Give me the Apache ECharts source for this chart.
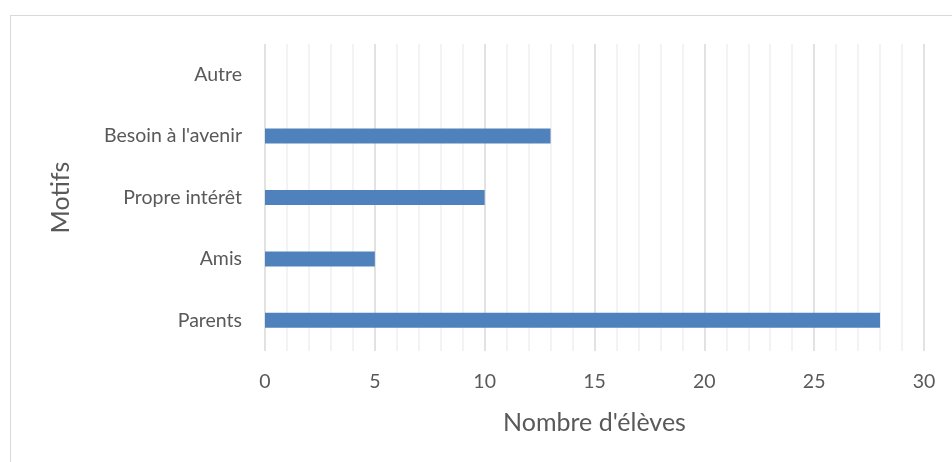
<!DOCTYPE html>
<html>
<head>
<meta charset="utf-8">
<script src="https://cdn.jsdelivr.net/npm/echarts@6/dist/echarts.min.js"></script>
<style>
html,body{margin:0;padding:0;background:#fff;overflow:hidden;}
#frame{position:absolute;left:10px;top:15px;width:960px;height:470px;border:1.5px solid #d9d9d9;box-sizing:border-box;}
#chart{position:absolute;left:0;top:0;width:952px;height:462px;}
</style>
</head>
<body>
<div id="frame"></div>
<div id="chart"></div>
<script>
const categories = ["Autre", "Besoin à l'avenir", "Propre intérêt", "Amis", "Parents"];
const values = [0, 13, 10, 5, 28];
const xTicks = [0, 5, 10, 15, 20, 25, 30];

const font = "Lato, 'Open Sans', sans-serif";
const chart = echarts.init(document.getElementById('chart'), null, {renderer: 'canvas'});
chart.setOption({
  animation: false,
  grid: {left: 265, right: 28, top: 44, bottom: 111},
  xAxis: {
    type: 'value',
    min: xTicks[0],
    max: xTicks[xTicks.length - 1],
    interval: 5,
    name: "Nombre d'élèves",
    nameLocation: 'middle',
    nameGap: 59,
    nameTextStyle: {fontFamily: font, fontSize: 25, color: '#595959'},
    axisLine: {show: false},
    axisTick: {show: false},
    axisLabel: {fontFamily: font, fontSize: 19.5, color: '#595959', margin: 21},
    splitLine: {show: true, lineStyle: {color: '#d9d9d9', width: 1.5}},
    minorTick: {show: false, splitNumber: 5},
    minorSplitLine: {show: true, lineStyle: {color: '#f0f0f0', width: 1.5}}
  },
  yAxis: {
    type: 'category',
    data: categories,
    inverse: true,
    name: 'Motifs',
    nameLocation: 'middle',
    nameGap: 192,
    nameTextStyle: {fontFamily: font, fontSize: 25, color: '#595959'},
    axisLine: {show: false},
    axisTick: {show: false},
    axisLabel: {fontFamily: font, fontSize: 19.5, color: '#595959', margin: 23},
    splitLine: {show: false}
  },
  series: [{
    type: 'bar',
    data: values,
    barWidth: 15,
    itemStyle: {color: '#4f81bd'}
  }]
});
</script>
</body>
</html>
